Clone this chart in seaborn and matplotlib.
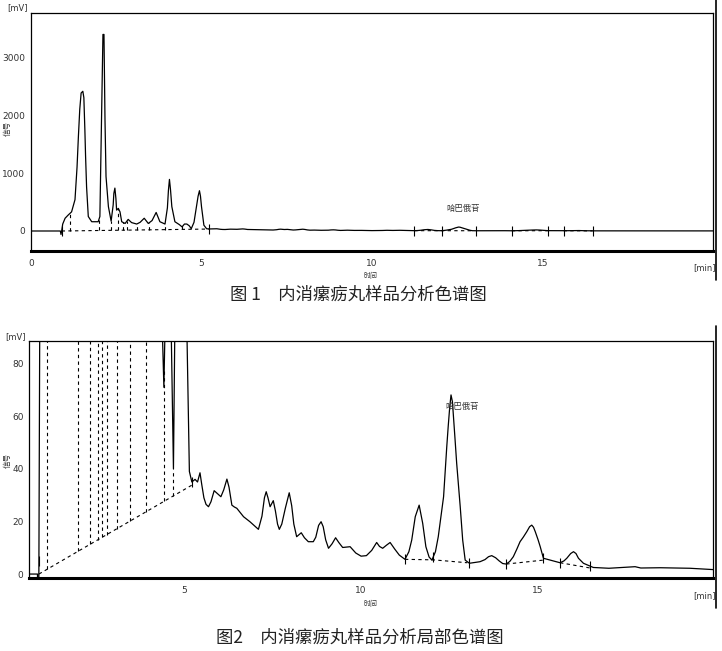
import numpy as np
import pandas as pd
import matplotlib
matplotlib.use('Agg')
import matplotlib.pyplot as plt
from matplotlib.lines import Line2D
import seaborn as sns

# ===== 数据（从原图读取的色谱曲线） =====
time_min = [0.00, 0.60, 0.86, 0.88, 0.90, 0.93, 1.00, 1.09, 1.19, 1.29, 1.35, 1.39, 1.43, 1.47,
            1.52, 1.55, 1.58, 1.60, 1.63, 1.68, 1.78, 1.97, 2.02, 2.07, 2.11, 2.14, 2.17, 2.20,
            2.27, 2.35, 2.41, 2.43, 2.46, 2.49, 2.51, 2.56, 2.61, 2.66, 2.76, 2.85, 2.95, 3.10,
            3.20, 3.32, 3.44, 3.55, 3.67, 3.78, 3.93, 4.00, 4.03, 4.06, 4.09, 4.13, 4.22, 4.35,
            4.43, 4.50, 4.57, 4.64, 4.70, 4.78, 4.86, 4.90, 4.94, 4.97, 5.00, 5.07, 5.15, 5.22,
            5.31, 5.38, 5.45, 5.50, 5.56, 5.62, 5.69, 5.76, 5.85, 5.95, 6.04, 6.12, 6.21, 6.27,
            6.35, 6.42, 6.49, 6.68, 6.86, 7.10, 7.20, 7.27, 7.32, 7.37, 7.43, 7.52, 7.58, 7.64,
            7.69, 7.76, 7.86, 7.97, 8.04, 8.10, 8.18, 8.31, 8.40, 8.51, 8.65, 8.72, 8.80, 8.87,
            8.93, 9.00, 9.08, 9.18, 9.28, 9.37, 9.48, 9.69, 9.85, 10.00, 10.15, 10.30, 10.44,
            10.52, 10.61, 10.72, 10.82, 10.95, 11.08, 11.24, 11.35, 11.43, 11.53, 11.64, 11.74,
            11.83, 11.92, 12.00, 12.10, 12.18, 12.33, 12.42, 12.46, 12.50, 12.54, 12.58, 12.61,
            12.65, 12.70, 12.80, 12.87, 12.94, 13.06, 13.36, 13.50, 13.60, 13.69, 13.80, 13.90,
            14.00, 14.10, 14.20, 14.30, 14.40, 14.49, 14.58, 14.68, 14.76, 14.82, 14.87, 14.92,
            15.00, 15.06, 15.15, 15.62, 15.73, 15.81, 15.92, 16.00, 16.07, 16.14, 16.28, 16.56,
            17.00, 17.74, 17.90, 18.45, 19.29, 19.94, 20.00]
signal_mv = [0, 0, 0, -60, 5, 120, 220, 275, 330, 540, 1100, 1630, 2100, 2380,
             2410, 2300, 1740, 1300, 760, 250, 160, 160, 250, 2030, 3390, 3390, 1910, 940,
             420, 170, 450, 650, 740, 560, 360, 390, 330, 160, 130, 200, 145, 120,
             150, 220, 130, 180, 320, 160, 120, 400, 700, 890, 720, 420, 160, 110,
             71, 120, 120, 90, 40, 150, 450, 600, 695, 600, 420, 100, 39, 35,
             36, 35, 38.5, 34, 29, 26.5, 25.6, 27.5, 31.7, 30.5, 29.4, 32, 36.1, 33,
             26.2, 25.5, 25, 21.8, 19.9, 17, 22, 29, 31.3, 29, 25.6, 27.9, 24, 19,
             17, 19, 25, 30.9, 26, 19, 14.2, 15.7, 13.8, 12.3, 12.3, 14, 18.5, 19.9,
             18, 13, 9.8, 11.5, 13.8, 12, 10.1, 10.4, 8, 6.8, 7.0, 9, 12.0,
             10.5, 9.8, 11, 12.0, 9.5, 7.2, 5.6, 8.5, 12.9, 21.8, 26.2, 19.3,
             10.4, 6.5, 5.3, 8.5, 14.2, 29.4, 48.4, 56, 62.9, 68.1, 65.5, 59.8,
             52, 42.1, 25.6, 12.9, 5.3, 4.1, 4.7, 5.5, 6.6, 7.0, 6.2, 5.0,
             4.0, 3.8, 4.8, 6.6, 9.5, 12.3, 14, 16.1, 18, 18.6, 17.8, 16.1,
             13, 10.4, 6.0, 4.3, 5.0, 6.0, 7.8, 8.5, 7.8, 6.0, 4.1, 2.5,
             2.2, 2.8, 2.3, 2.4, 2.2, 1.7, 1.7]

# 积分基线（虚线）
base1_t = [0.90, 5.22]
base1_v = [0.0, 33.8]
base2_t = [11.24, 12.04, 13.00]
base2_v = [5.6, 5.4, 4.3]
base3_t = [14.10, 15.15]
base3_v = [3.8, 5.3]
base4_t = [15.62, 16.47]
base4_v = [4.3, 2.3]

# 垂直分割线位置
drop_t = [1.14, 2.00, 2.35, 2.56, 2.69, 2.81, 3.10, 3.47, 3.92, 4.44, 4.70]
# 积分标记
mark_t = [0.90, 5.22, 11.24, 12.04, 13.06, 14.10, 15.15, 15.62, 16.47]

peak_name = '哈巴俄苷'
caption1 = '图 1\u3000内消瘰疬丸样品分析色谱图'
caption2 = '图2\u3000内消瘰疬丸样品分析局部色谱图'

df = pd.DataFrame({'time': time_min, 'signal': signal_mv})

sns.set_style('white')
plt.rcParams['font.family'] = ['DejaVu Sans', 'Noto Sans CJK SC']
cjk = ['Noto Sans CJK SC', 'DejaVu Sans']

W, H = 722, 651
fig = plt.figure(figsize=(W / 100, H / 100), dpi=100)


def fx(px):
    return px / W


def fy(py):
    return 1 - py / H


def draw_chrom(ax):
    sns.lineplot(data=df, x='time', y='signal', ax=ax, color='black', lw=0.9,
                 estimator=None, sort=False)
    for bt, bv in [(base1_t, base1_v), (base2_t, base2_v), (base3_t, base3_v), (base4_t, base4_v)]:
        ax.plot(bt, bv, color='black', lw=0.8, ls=(0, (3, 3)))
    # 垂直分割线：从基线到曲线
    for t in drop_t:
        b = np.interp(t, base1_t, base1_v)
        s = np.interp(t, time_min, signal_mv)
        ax.plot([t, t], [b, s], color='black', lw=0.8, ls=(0, (3, 3)))
    mv = np.interp(mark_t, time_min, signal_mv)
    ax.plot(mark_t, mv, ls='none', marker='|', ms=7, mew=0.8, color='black')
    for side in ['top', 'left', 'right']:
        ax.spines[side].set_linewidth(0.9)
        ax.spines[side].set_color('black')
    ax.spines['bottom'].set_linewidth(2.2)
    ax.spines['bottom'].set_color('black')
    ax.set_xlabel('')
    ax.set_ylabel('')
    ax.tick_params(axis='both', labelsize=6.5, labelcolor='#333333', colors='#333333',
                   length=2, width=0.6, pad=2)
    ax.tick_params(axis='x', pad=4)


# ===== 图1 =====
ax1 = fig.add_axes([fx(31), fy(251), 682 / W, 238 / H])
draw_chrom(ax1)
ax1.set_xlim(0, 20)
ax1.set_ylim(-345, 3760)
ax1.set_xticks([0, 5, 10, 15])
ax1.set_yticks([0, 1000, 2000, 3000])
ax1.text(12.67, 380, peak_name, fontsize=6, family=cjk, color='#333333', ha='center', va='center')

# ===== 图2 =====
ax2 = fig.add_axes([fx(29), fy(578), 684 / W, 237 / H])
draw_chrom(ax2)
ax2.set_xlim(0.62, 19.94)
ax2.set_ylim(-1.5, 88.6)
ax2.set_xticks([5, 10, 15])
ax2.set_yticks([0, 20, 40, 60, 80])
ax2.text(12.84, 63.6, peak_name, fontsize=6, family=cjk, color='#333333', ha='center', va='center')

# 单位与轴标题
for py_mv, px_mv, py_min, py_lab, py_time in [(8, 28, 268, 128, 276), (337, 26, 596, 460, 604)]:
    fig.text(fx(px_mv), fy(py_mv), '[mV]', fontsize=6, color='#333333', ha='right', va='center')
    fig.text(fx(705), fy(py_min), '[min]', fontsize=6, color='#333333', ha='center', va='center')
    fig.text(fx(8), fy(py_lab), '信号', fontsize=5.5, family=cjk, color='#333333',
             rotation=90, ha='center', va='center')
    fig.text(fx(371), fy(py_time), '时间', fontsize=5, family=cjk, color='#333333',
             ha='center', va='center')

# 右侧边框线
fig.add_artist(Line2D([fx(716), fx(716)], [fy(0), fy(280)], transform=fig.transFigure,
                      color='black', lw=1.2))
fig.add_artist(Line2D([fx(716), fx(716)], [fy(326), fy(608)], transform=fig.transFigure,
                      color='black', lw=1.2))

# 图题
fig.text(fx(358), fy(295), caption1, fontsize=12.5, family=cjk, color='#222222',
         ha='center', va='center')
fig.text(fx(360), fy(638), caption2, fontsize=12.5, family=cjk, color='#222222',
         ha='center', va='center')

fig.savefig('out.png', dpi=100)
